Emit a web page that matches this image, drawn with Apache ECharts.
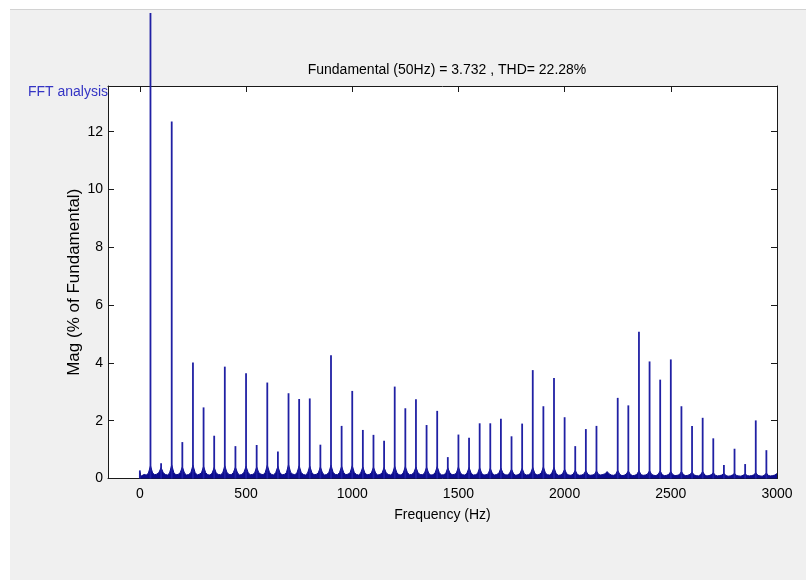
<!DOCTYPE html>
<html>
<head>
<meta charset="utf-8">
<title>FFT analysis</title>
<script src="https://cdn.jsdelivr.net/npm/echarts@6/dist/echarts.min.js"></script>
<style>
  html, body { margin: 0; padding: 0; background: #ffffff; width: 806px; height: 580px; overflow: hidden; }
  #frame { position: absolute; left: 10px; top: 9px; right: 0; bottom: 0; background: #f0f0f0; border-top: 1px solid #d2d2d2; }
  #chart { position: absolute; left: 0; top: 13px; width: 806px; height: 567px; }
</style>
</head>
<body>
<div id="frame"></div>
<div id="chart"></div>
<script>
// Harmonic spectrum of the signal, magnitudes in % of the fundamental.
const fundamentalFreq = 50;      // Hz
const fundamentalMag = 100;      // % of fundamental (runs off the top of the axes)
const dcMag = 0.28;

// Harmonic orders 2..59 and their magnitudes (% of fundamental)
const harmonicOrders = [
   2,  3,  4,  5,  6,  7,  8,  9, 10, 11, 12, 13, 14, 15, 16, 17, 18, 19, 20,
  21, 22, 23, 24, 25, 26, 27, 28, 29, 30, 31, 32, 33, 34, 35, 36, 37, 38, 39, 40,
  41, 42, 43, 44, 45, 46, 47, 48, 49, 50, 51, 52, 53, 54, 55, 56, 57, 58, 59
];
const harmonicMags = [
  0.53, 12.35, 1.26, 4.01, 2.46, 1.48, 3.87, 1.12, 3.64, 1.16, 3.32, 0.93, 2.95, 2.75, 2.77, 1.17, 4.26, 1.82, 3.03,
  1.68, 1.51, 1.31, 3.18, 2.43, 2.74, 1.85, 2.34, 0.74, 1.52, 1.41, 1.91, 1.91, 2.07, 1.46, 1.90, 3.75, 2.50, 3.48, 2.12,
  1.12, 1.71, 1.82, 0.00, 2.79, 2.53, 5.08, 4.05, 3.42, 4.12, 2.50, 1.82, 2.10, 1.39, 0.47, 1.03, 0.50, 2.01, 0.98
];

// Leakage / noise floor sampled every 10 Hz from 0 to 3000 Hz (one row per 100 Hz)
const floorStep = 10;
const floorMags = [
  0.06,0.10,0.14,0.12,0.18,0.44,0.19,0.13,0.15,0.21,
  0.38,0.20,0.14,0.12,0.19,0.47,0.20,0.13,0.14,0.20,
  0.40,0.19,0.12,0.14,0.20,0.46,0.21,0.12,0.15,0.19,
  0.42,0.20,0.13,0.12,0.18,0.38,0.18,0.14,0.13,0.19,
  0.44,0.21,0.14,0.13,0.20,0.39,0.19,0.12,0.14,0.21,
  0.42,0.20,0.13,0.14,0.18,0.40,0.20,0.15,0.13,0.20,
  0.46,0.22,0.14,0.12,0.21,0.42,0.19,0.13,0.14,0.20,
  0.48,0.21,0.15,0.13,0.20,0.44,0.20,0.14,0.12,0.19,
  0.43,0.20,0.13,0.14,0.19,0.40,0.19,0.12,0.14,0.21,
  0.46,0.21,0.14,0.13,0.20,0.42,0.20,0.13,0.15,0.20,
  0.44,0.20,0.14,0.12,0.19,0.40,0.18,0.13,0.14,0.19,
  0.39,0.19,0.12,0.14,0.18,0.38,0.19,0.14,0.12,0.18,
  0.42,0.20,0.13,0.12,0.19,0.41,0.20,0.13,0.14,0.20,
  0.40,0.19,0.14,0.13,0.18,0.39,0.18,0.12,0.13,0.19,
  0.41,0.20,0.12,0.13,0.17,0.37,0.19,0.13,0.14,0.18,
  0.40,0.18,0.13,0.12,0.18,0.38,0.18,0.12,0.13,0.17,
  0.37,0.17,0.12,0.13,0.16,0.35,0.17,0.12,0.14,0.18,
  0.36,0.18,0.13,0.12,0.17,0.32,0.16,0.11,0.13,0.17,
  0.35,0.16,0.12,0.13,0.18,0.38,0.17,0.12,0.14,0.19,
  0.40,0.18,0.13,0.12,0.19,0.38,0.17,0.11,0.12,0.16,
  0.32,0.16,0.12,0.11,0.15,0.28,0.14,0.11,0.12,0.15,
  0.27,0.14,0.11,0.12,0.14,0.26,0.14,0.12,0.14,0.16,
  0.24,0.16,0.12,0.11,0.14,0.28,0.14,0.10,0.11,0.15,
  0.26,0.14,0.10,0.11,0.14,0.27,0.13,0.11,0.12,0.15,
  0.27,0.14,0.11,0.10,0.14,0.26,0.13,0.10,0.11,0.14,
  0.24,0.13,0.10,0.11,0.13,0.24,0.13,0.10,0.11,0.14,
  0.22,0.12,0.10,0.09,0.13,0.24,0.12,0.09,0.10,0.13,
  0.20,0.11,0.09,0.10,0.12,0.18,0.10,0.08,0.09,0.12,
  0.18,0.10,0.09,0.08,0.11,0.16,0.10,0.09,0.10,0.12,
  0.20,0.11,0.09,0.08,0.11,0.19,0.10,0.09,0.10,0.12,
  0.17
];

const xTicks = [0, 500, 1000, 1500, 2000, 2500, 3000];
const yTicks = [0, 2, 4, 6, 8, 10, 12];
const titleText = 'Fundamental (50Hz) = 3.732 , THD= 22.28%';

const FONT = '"Liberation Sans", Arial, Helvetica, sans-serif';
const BAR_COLOR = '#2020a4';
const FLOOR_COLOR = '#0c0c8e';
const AXIS_COLOR = '#1a1a1a';

const harmonicData = [[0, dcMag]].concat(
  harmonicOrders.map((h, i) => [h * fundamentalFreq, harmonicMags[i]])
);
const floorData = floorMags.map((v, i) => [i * floorStep, v]);

const chart = echarts.init(document.getElementById('chart'), null, { renderer: 'canvas' });

const plainNumber = v => String(v);

const xCommon = {
  type: 'value', min: -150, max: 3000,
  splitLine: { show: false },
  axisLine: { show: true, onZero: false, lineStyle: { color: AXIS_COLOR, width: 1 } },
  axisTick: { show: true, inside: true, length: 6, customValues: xTicks, lineStyle: { color: AXIS_COLOR } }
};
const yCommon = {
  type: 'value', min: 0, max: 13.58,
  splitLine: { show: false },
  axisLine: { show: true, onZero: false, lineStyle: { color: AXIS_COLOR, width: 1 } },
  axisTick: { show: true, inside: true, length: 6, customValues: yTicks, lineStyle: { color: AXIS_COLOR } }
};

chart.setOption({
  animation: false,
  backgroundColor: 'transparent',
  title: {
    text: titleText, left: 442, top: 45, textAlign: 'center',
    textStyle: { fontFamily: FONT, fontSize: 14, fontWeight: 'normal', color: '#000' }
  },
  graphic: [{
    type: 'text', x: 108, y: 79,
    style: { text: 'FFT analysis', font: '14px ' + FONT, fill: '#3434c4', align: 'right', verticalAlign: 'middle' }
  }],
  grid: { left: 108, top: 73, right: 29, bottom: 101.5, show: true, backgroundColor: '#ffffff', borderWidth: 0 },
  xAxis: [
    Object.assign({}, xCommon, {
      position: 'bottom',
      name: 'Frequency (Hz)', nameLocation: 'middle', nameGap: 30, nameMoveOverlap: false,
      nameTextStyle: { fontFamily: FONT, fontSize: 14, color: '#000' },
      axisLabel: { customValues: xTicks, formatter: plainNumber, margin: 9, fontFamily: FONT, fontSize: 14, color: '#000' }
    }),
    Object.assign({}, xCommon, { position: 'top', axisLabel: { show: false } })
  ],
  yAxis: [
    Object.assign({}, yCommon, {
      position: 'left',
      name: 'Mag (% of Fundamental)', nameLocation: 'middle', nameGap: 25, nameMoveOverlap: false,
      nameTextStyle: { fontFamily: FONT, fontSize: 17, color: '#000' },
      axisLabel: { customValues: yTicks, formatter: plainNumber, margin: 5, fontFamily: FONT, fontSize: 14, color: '#000' }
    }),
    Object.assign({}, yCommon, { position: 'right', axisLabel: { show: false } })
  ],
  series: [
    {
      name: 'floor', type: 'line', data: floorData, xAxisIndex: 0, yAxisIndex: 0,
      showSymbol: false, symbol: 'none', z: 2,
      lineStyle: { color: FLOOR_COLOR, width: 1 },
      areaStyle: { color: FLOOR_COLOR, opacity: 1 }
    },
    {
      name: 'harmonics', type: 'bar', data: harmonicData, xAxisIndex: 0, yAxisIndex: 0,
      barWidth: 1.8, z: 3,
      itemStyle: { color: BAR_COLOR }
    },
    {
      name: 'fundamental', type: 'bar', data: [[fundamentalFreq, fundamentalMag]],
      xAxisIndex: 0, yAxisIndex: 0, barWidth: 1.8, barGap: '-100%', clip: false, z: 4,
      itemStyle: { color: BAR_COLOR }
    }
  ]
});
</script>
</body>
</html>
